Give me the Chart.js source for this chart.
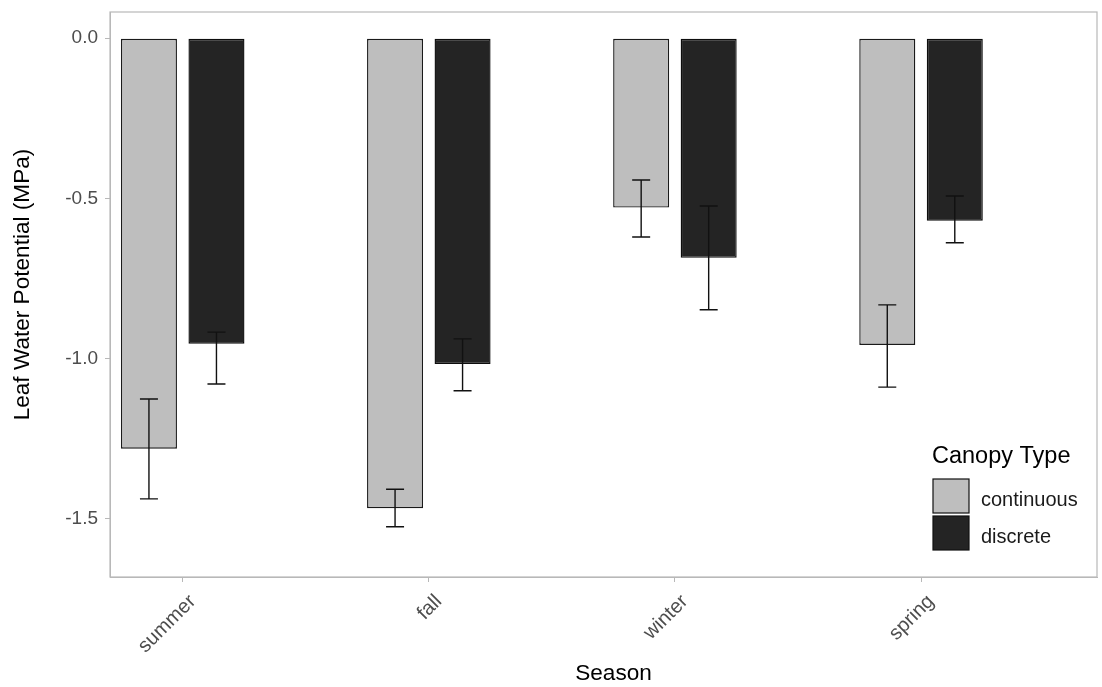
<!DOCTYPE html>
<html>
<head>
<meta charset="utf-8">
<script src="https://cdn.jsdelivr.net/npm/chart.js@4/dist/chart.umd.min.js"></script>
<style>
  html, body { margin: 0; padding: 0; background: #ffffff; }
  #wrap { width: 1102px; height: 687px; }
</style>
</head>
<body>
<div id="wrap"><canvas id="c" width="1102" height="687"></canvas></div>
<script>
// Seasons on the x axis
const seasons = ['summer', 'fall', 'winter', 'spring'];

// Mean leaf water potential (MPa) per canopy type
const continuousMean = [-1.282, -1.468, -0.529, -0.958];
const discreteMean   = [-0.954, -1.018, -0.686, -0.570];

// Error bar limits (upper / lower) per canopy type
const continuousUpper = [-1.127, -1.409, -0.443, -0.833];
const continuousLower = [-1.439, -1.526, -0.621, -1.090];
const discreteUpper   = [-0.918, -0.939, -0.524, -0.493];
const discreteLower   = [-1.080, -1.101, -0.848, -0.639];

// Y axis tick values
const yTicks = [0, -0.5, -1.0, -1.5];

const canopyLabels = ['continuous', 'discrete'];
const canopyColors = ['#bebebe', '#242424'];

const FONT = '"Liberation Sans", Arial, sans-serif';
const FRAME = '#b8b8b8';

function toPoints(values) {
  return values.map((v, i) => ({ x: i + 1, y: v }));
}

// Error bars drawn through the chart's own scales
const errorBars = {
  id: 'errorBars',
  afterDatasetsDraw(chart) {
    const ctx = chart.ctx;
    const ys = chart.scales.y;
    chart.data.datasets.forEach((ds, di) => {
      const meta = chart.getDatasetMeta(di);
      meta.data.forEach((bar, i) => {
        const yHi = ys.getPixelForValue(ds.errUpper[i]);
        const yLo = ys.getPixelForValue(ds.errLower[i]);
        const cap = 9;
        ctx.save();
        ctx.strokeStyle = '#111111';
        ctx.lineWidth = 1.4;
        ctx.beginPath();
        ctx.moveTo(bar.x, yHi); ctx.lineTo(bar.x, yLo);
        ctx.moveTo(bar.x - cap, yHi); ctx.lineTo(bar.x + cap, yHi);
        ctx.moveTo(bar.x - cap, yLo); ctx.lineTo(bar.x + cap, yLo);
        ctx.stroke();
        ctx.restore();
      });
    });
  }
};

// Panel frame, axis titles and the inset legend
const decorations = {
  id: 'decorations',
  afterDraw(chart) {
    const ctx = chart.ctx;
    const a = chart.chartArea;
    ctx.save();
    ctx.strokeStyle = FRAME;
    ctx.lineWidth = 1.2;
    ctx.strokeRect(a.left, a.top, a.right - a.left, a.bottom - a.top);

    // axis titles
    ctx.fillStyle = '#000000';
    ctx.font = '22.6px ' + FONT;
    ctx.textAlign = 'center';
    ctx.textBaseline = 'middle';
    ctx.fillText('Season', (a.left + a.right) / 2 + 10, 674);
    ctx.save();
    ctx.translate(23, (a.top + a.bottom) / 2 - 10);
    ctx.rotate(-Math.PI / 2);
    ctx.fillText('Leaf Water Potential (MPa)', 0, 0);
    ctx.restore();

    // legend
    const lx = a.right - 164;
    const ly = a.bottom - 120;
    ctx.textAlign = 'left';
    ctx.font = '23.5px ' + FONT;
    ctx.fillStyle = '#000000';
    ctx.fillText('Canopy Type', lx - 1, ly);
    ctx.font = '20px ' + FONT;
    canopyLabels.forEach((lab, i) => {
      const by = ly + 22 + i * 37;
      ctx.fillStyle = canopyColors[i];
      ctx.fillRect(lx, by, 36, 34);
      ctx.strokeStyle = '#111111';
      ctx.lineWidth = 1.2;
      ctx.strokeRect(lx, by, 36, 34);
      ctx.fillStyle = '#1a1a1a';
      ctx.fillText(lab, lx + 48, by + 21);
    });
    ctx.restore();
  }
};

new Chart(document.getElementById('c'), {
  type: 'bar',
  data: {
    datasets: [
      {
        label: canopyLabels[0],
        data: toPoints(continuousMean),
        errUpper: continuousUpper,
        errLower: continuousLower,
        backgroundColor: canopyColors[0],
        borderColor: '#1a1a1a',
        borderWidth: 1.4,
        borderSkipped: false,
        categoryPercentage: 0.5486,
        barPercentage: 0.83
      },
      {
        label: canopyLabels[1],
        data: toPoints(discreteMean),
        errUpper: discreteUpper,
        errLower: discreteLower,
        backgroundColor: canopyColors[1],
        borderColor: '#0d0d0d',
        borderWidth: 1.4,
        borderSkipped: false,
        categoryPercentage: 0.5486,
        barPercentage: 0.83
      }
    ]
  },
  options: {
    responsive: false,
    animation: false,
    layout: { padding: { top: 12, right: 5, left: 0, bottom: 0 } },
    plugins: {
      legend: { display: false },
      tooltip: { enabled: false }
    },
    scales: {
      x: {
        type: 'linear',
        min: 0.7046,
        max: 4.715,
        offset: false,
        afterBuildTicks(scale) {
          scale.ticks = seasons.map((s, i) => ({ value: i + 1 }));
        },
        afterFit(scale) {
          scale.height = 110;
          scale.paddingLeft = 0;
          scale.paddingRight = 0;
        },
        grid: {
          display: true,
          offset: false,
          drawOnChartArea: false,
          drawTicks: true,
          tickLength: 5,
          color: FRAME
        },
        border: { display: true, color: FRAME },
        ticks: {
          autoSkip: false,
          minRotation: 45,
          maxRotation: 45,
          padding: 8,
          labelOffset: 10,
          color: '#4d4d4d',
          font: { family: FONT, size: 20 },
          callback: (v) => seasons[v - 1]
        }
      },
      y: {
        min: -1.683,
        max: 0.082,
        afterBuildTicks(scale) {
          scale.ticks = yTicks.map(v => ({ value: v }));
        },
        afterFit(scale) {
          scale.width = 110;
          scale.paddingTop = 0;
          scale.paddingBottom = 0;
        },
        grid: {
          display: true,
          drawOnChartArea: false,
          drawTicks: true,
          tickLength: 5,
          color: FRAME
        },
        border: { display: true, color: FRAME },
        ticks: {
          padding: 7,
          color: '#4d4d4d',
          font: { family: FONT, size: 19 },
          callback: (v) => Number(v).toFixed(1)
        }
      }
    }
  },
  plugins: [errorBars, decorations]
});
</script>
</body>
</html>
